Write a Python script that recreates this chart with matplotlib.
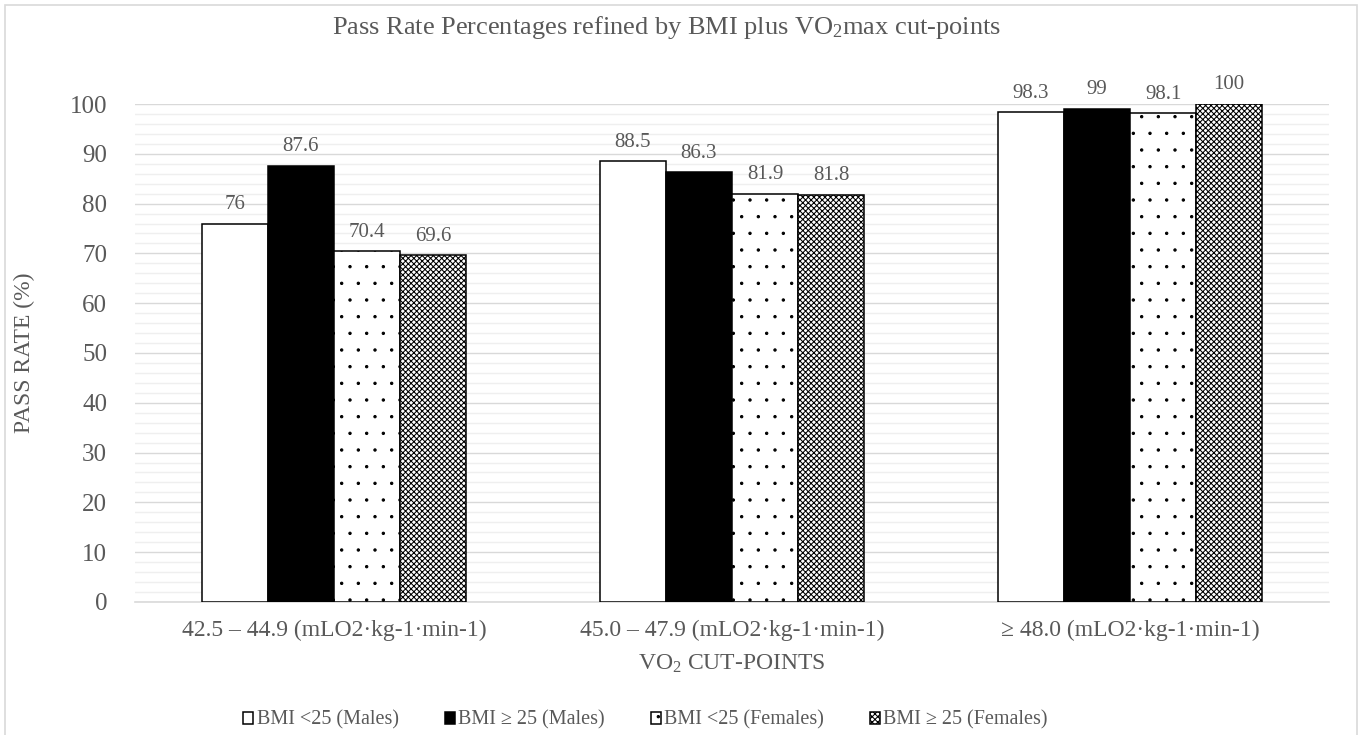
import matplotlib
matplotlib.use("Agg")
import matplotlib.pyplot as plt
import matplotlib.hatch as mhatch
import numpy as np
from matplotlib.patches import Rectangle, Patch

plt.rcParams['font.family'] = ['Liberation Serif', 'DejaVu Serif']
plt.rcParams['mathtext.fontset'] = 'custom'
plt.rcParams['mathtext.rm'] = 'Liberation Serif'
plt.rcParams['mathtext.it'] = 'Liberation Serif:italic'
plt.rcParams['hatch.linewidth'] = 0.75


# smaller dots for the '.' hatch
class FineDots(mhatch.SmallFilledCircles):
    size = 0.07


mhatch._hatch_types[mhatch._hatch_types.index(mhatch.SmallFilledCircles)] = FineDots

TEXT = '#595959'

categories = ['42.5 – 44.9 (mLO2·kg-1·min-1)',
              '45.0 – 47.9 (mLO2·kg-1·min-1)',
              '≥ 48.0 (mLO2·kg-1·min-1)']
series_names = ['BMI <25 (Males)', 'BMI ≥ 25 (Males)',
                'BMI <25 (Females)', 'BMI ≥ 25 (Females)']
male_bmi_lt25 = [76, 88.5, 98.3]
male_bmi_ge25 = [87.6, 86.3, 99]
female_bmi_lt25 = [70.4, 81.9, 98.1]
female_bmi_ge25 = [69.6, 81.8, 100]
yticks = list(range(0, 101, 10))

series = [male_bmi_lt25, male_bmi_ge25, female_bmi_lt25, female_bmi_ge25]
faces = ['white', 'black', 'white', 'white']
hatches = [None, None, '.', 'xxxxxx']

fig = plt.figure(figsize=(13.62, 7.35), dpi=100)
ax = fig.add_axes([0.0991, 0.181, 0.8767, 0.6775])

# outer chart frame
fig.patches.append(Rectangle((0.004, -0.01), 0.992, 1.003, transform=fig.transFigure,
                             fill=False, edgecolor='#d9d9d9', linewidth=1.2))

x = np.arange(len(categories))
w = 0.166
for i, vals in enumerate(series):
    bars = ax.bar(x + (i - 1.5) * w, vals, w, color=faces[i], edgecolor='black',
                  linewidth=1.1, hatch=hatches[i], zorder=3, label=series_names[i])
    ax.bar_label(bars, labels=[f'{v:g}' for v in vals], padding=7,
                 fontsize=15, color=TEXT)

ax.set_xlim(-0.5, 2.5)
ax.set_ylim(0, 100)
ax.set_yticks(yticks)
ax.set_yticks(np.arange(0, 101, 2), minor=True)
ax.grid(axis='y', which='major', color='#d9d9d9', linewidth=1.0, zorder=0)
ax.grid(axis='y', which='minor', color='#efefef', linewidth=1.0, zorder=0)
ax.set_axisbelow(True)
ax.tick_params(axis='y', which='both', length=0, labelsize=18, labelcolor=TEXT, pad=20)
ax.tick_params(axis='x', length=0, labelsize=17, labelcolor=TEXT, pad=13)
ax.set_xticks(x)
ax.set_xticklabels(categories)
for s in ['top', 'right', 'left']:
    ax.spines[s].set_visible(False)
ax.spines['bottom'].set_color('#d9d9d9')
ax.spines['bottom'].set_linewidth(1.2)

ax.set_ylabel('PASS RATE (%)', fontsize=17, color=TEXT, labelpad=25)
ax.set_xlabel('VO$_2$ CUT-POINTS', fontsize=17, color=TEXT, labelpad=8)

fig.text(0.489, 0.963, 'Pass Rate Percentages refined by BMI plus VO$_2$max cut-points',
         ha='center', va='center', fontsize=19, color=TEXT)

handles = [Patch(facecolor=faces[i], edgecolor='black', linewidth=1.1,
                 hatch=hatches[i], label=series_names[i]) for i in range(4)]
fig.legend(handles=handles, loc='center', bbox_to_anchor=(0.474, 0.020), ncol=4,
           frameon=False, fontsize=14.5, labelcolor=TEXT, handlelength=0.5,
           handleheight=0.5, handletextpad=0.15, columnspacing=2.3)

fig.savefig('out.png', dpi=100)
